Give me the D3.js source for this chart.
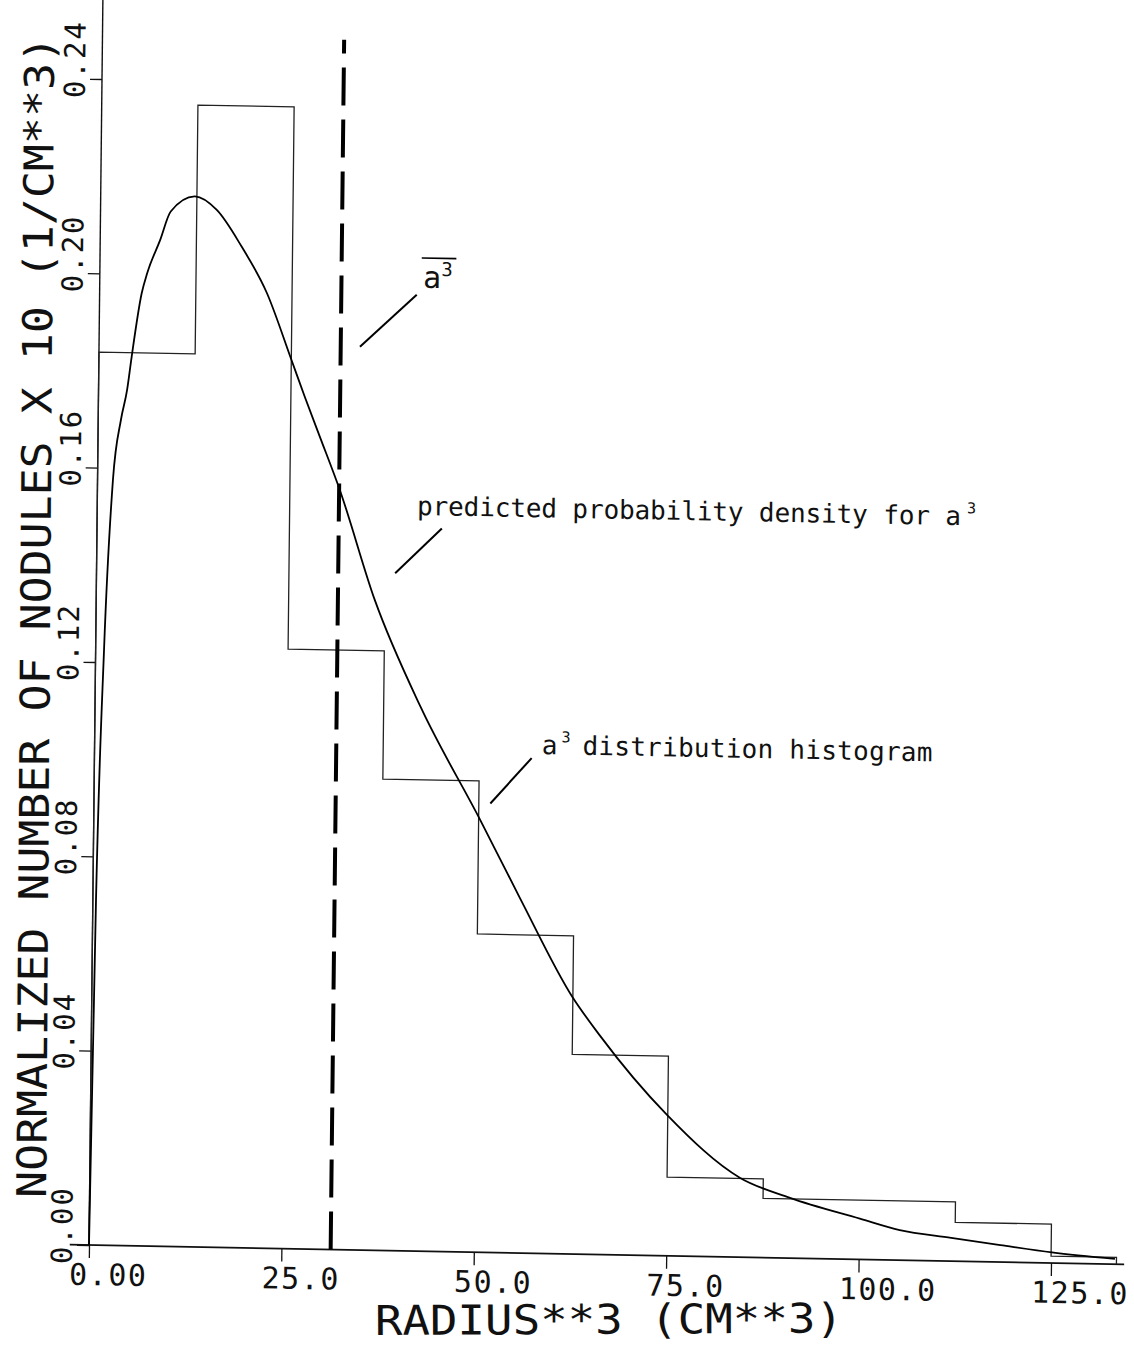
<!DOCTYPE html>
<html>
<head>
<meta charset="utf-8">
<script src="https://cdn.jsdelivr.net/npm/d3@7"></script>
<style>
  body { margin: 0; background: #fff; }
  text { font-family: "DejaVu Sans Mono", "Liberation Mono", monospace; fill: #111; }
</style>
</head>
<body>
<svg width="1134" height="1346"></svg>
<script>
// histogram of a^3 (bins of 12.5 cm^3)
const binStarts = [0, 12.5, 25, 37.5, 50, 62.5, 75, 87.5, 100, 112.5, 125];
const binEnds   = [12.5, 25, 37.5, 50, 62.5, 75, 87.5, 100, 112.5, 125, 133.5];
const binValues = [0.1838, 0.235, 0.1234, 0.097, 0.0655, 0.0411, 0.0162, 0.0122, 0.0122, 0.008, 0.0014];

// predicted probability density
const curveX = [0, 0.41, 1.09, 2.0, 2.96, 3.7, 4.26, 5.46, 6.17, 7.77, 9.12, 12.25, 15.1, 18.4, 21.7, 25.0, 26.8, 28.8, 31.5, 36.2, 42.3, 50.2, 55.5, 62.4, 66.1, 74.9, 84.5, 91.0, 100.1, 105.3, 112.0, 118.4, 125.1, 133.3];
const curveY = [0, 0.071, 0.1225, 0.1575, 0.17, 0.176, 0.183, 0.196, 0.2003, 0.207, 0.213, 0.2162, 0.2135, 0.206, 0.1967, 0.183, 0.1754, 0.1673, 0.1563, 0.1338, 0.112, 0.089, 0.073, 0.053, 0.045, 0.029, 0.0163, 0.0124, 0.0084, 0.0062, 0.0048, 0.0035, 0.0022, 0.0011];

const meanA3 = 31.4;

const xTicks = [0, 25, 50, 75, 100, 125];
const xTickLabels = ["0.00", "25.0", "50.0", "75.0", "100.0", "125.0"];
const yTicks = [0, 0.04, 0.08, 0.12, 0.16, 0.20, 0.24];
const yTickLabels = ["0.00", "0.04", "0.08", "0.12", "0.16", "0.20", "0.24"];

const xTitle = "RADIUS**3  (CM**3)";
const yTitle = "NORMALIZED NUMBER OF NODULES X 10 (1/CM**3)";

const svg = d3.select('svg');
// the scanned plot is slightly skewed, so the chart sits in a sheared frame
const chart = svg.append('g')
    .attr('transform', 'matrix(1,0.0187,-0.01115,1,89,1245)');

const xScale = d3.scaleLinear().domain([0, 125]).range([0, 962]);
const yScale = d3.scaleLinear().domain([0, 0.24]).range([0, -1166]);

// axes
const xAxis = chart.append('g')
    .call(d3.axisBottom(xScale).tickValues(xTicks).tickSize(13)
        .tickFormat((d, i) => xTickLabels[i]));
xAxis.select('.domain').remove();
xAxis.selectAll('line').attr('stroke', '#111').attr('stroke-width', 1.3);
xAxis.selectAll('text')
    .attr('x', -20).attr('y', 40).attr('dy', 0)
    .attr('text-anchor', 'start')
    .style('font-size', '30px')
    .style('letter-spacing', '1.5px')
    .style('font-family', '"DejaVu Sans Mono", monospace');

const yAxis = chart.append('g')
    .call(d3.axisLeft(yScale).tickValues(yTicks).tickSize(12)
        .tickFormat((d, i) => yTickLabels[i]));
yAxis.select('.domain').remove();
yAxis.selectAll('line').attr('stroke', '#111').attr('stroke-width', 1.3);
yAxis.selectAll('text')
    .attr('x', 0).attr('y', 0).attr('dy', 0)
    .attr('text-anchor', 'start')
    .attr('transform', 'translate(-17,19) rotate(-90)')
    .style('font-size', '29px')
    .style('letter-spacing', '2px')
    .style('font-family', '"DejaVu Sans Mono", monospace');

chart.append('line')
    .attr('x1', xScale(-2.5)).attr('x2', xScale(134.5))
    .attr('y1', yScale(0)).attr('y2', yScale(0))
    .attr('stroke', '#111').attr('stroke-width', 1.6);
chart.append('line')
    .attr('x1', xScale(0)).attr('x2', xScale(0))
    .attr('y1', yScale(0)).attr('y2', yScale(0.257))
    .attr('stroke', '#111').attr('stroke-width', 1.4);

// histogram outline
const histPts = [[0, 0]];
binStarts.forEach((s, i) => {
    histPts.push([s, binValues[i]]);
    histPts.push([binEnds[i], binValues[i]]);
});
histPts.push([binEnds[binEnds.length - 1], 0]);

chart.append('path')
    .datum(histPts)
    .attr('fill', 'none')
    .attr('stroke', '#222')
    .attr('stroke-width', 1.3)
    .attr('d', d3.line().x(d => xScale(d[0])).y(d => yScale(d[1])));

// predicted density
chart.append('path')
    .datum(curveX.map((x, i) => [x, curveY[i]]))
    .attr('fill', 'none')
    .attr('stroke', '#000')
    .attr('stroke-width', 1.8)
    .attr('d', d3.line().x(d => xScale(d[0])).y(d => yScale(d[1])).curve(d3.curveMonotoneX));

// mean of a^3
chart.append('line')
    .attr('x1', xScale(meanA3)).attr('x2', xScale(meanA3))
    .attr('y1', yScale(0)).attr('y2', yScale(0.249))
    .attr('stroke', '#000').attr('stroke-width', 4)
    .attr('stroke-dasharray', '38,14');

// annotations
function leader(x1, y1, x2, y2) {
    chart.append('line')
        .attr('x1', xScale(x1)).attr('y1', yScale(y1))
        .attr('x2', xScale(x2)).attr('y2', yScale(y2))
        .attr('stroke', '#000').attr('stroke-width', 2);
}

const abar = chart.append('text')
    .attr('x', xScale(42.0)).attr('y', yScale(0.1983))
    .style('font-size', '30px');
abar.append('tspan').text('a');
abar.append('tspan').attr('dy', -12).style('font-size', '19px').text('3');
chart.append('line')
    .attr('x1', xScale(41.8)).attr('x2', xScale(46.3))
    .attr('y1', yScale(0.2044)).attr('y2', yScale(0.2044))
    .attr('stroke', '#000').attr('stroke-width', 1.6);
leader(41.2, 0.1968, 33.9, 0.1859);

const pred = chart.append('text')
    .attr('x', xScale(41.55)).attr('y', yScale(0.1515))
    .style('font-size', '26px');
pred.append('tspan').attr('textLength', 544).text('predicted probability density for a');
pred.append('tspan').attr('dx', 6).attr('dy', -12).style('font-size', '15px').text('3');
leader(44.8, 0.1488, 38.8, 0.1394);

const hist = chart.append('text')
    .attr('x', xScale(58.1)).attr('y', yScale(0.1028))
    .style('font-size', '26px');
hist.append('tspan').text('a');
hist.append('tspan').attr('dx', 4).attr('dy', -12).style('font-size', '15px').text('3');
hist.append('tspan').attr('dx', 12).attr('dy', 12).attr('textLength', 350).text('distribution histogram');
leader(56.8, 0.1019, 51.5, 0.0924);

// axis titles (plotted nearly level, not sheared like the frame)
svg.append('text')
    .attr('transform', 'translate(375, 1335) rotate(-0.3)')
    .attr('textLength', 468)
    .attr('lengthAdjust', 'spacingAndGlyphs')
    .style('font-size', '41px')
    .text(xTitle);

svg.append('text')
    .attr('transform', 'translate(46, 1198) rotate(-89.6)')
    .attr('textLength', 1162)
    .attr('lengthAdjust', 'spacingAndGlyphs')
    .style('font-size', '41px')
    .text(yTitle);
</script>
</body>
</html>
